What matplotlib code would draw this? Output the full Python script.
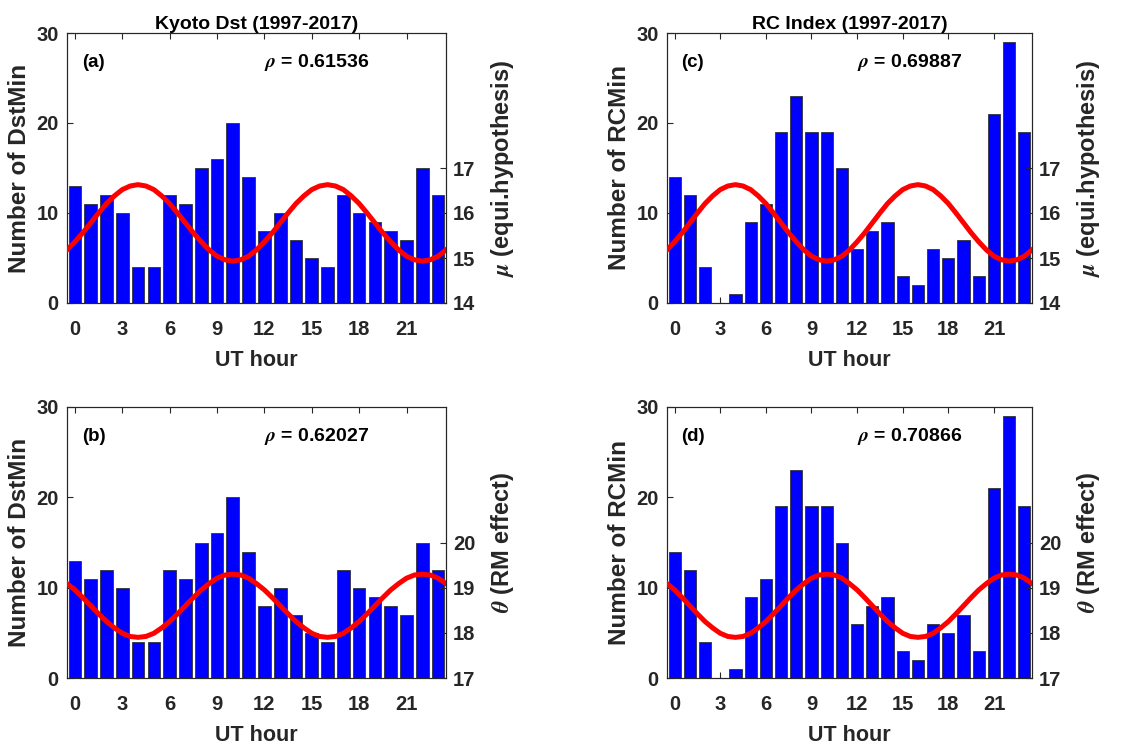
import matplotlib
matplotlib.use("Agg")
from matplotlib import pyplot as plt

plt.rcParams['font.family'] = ['Liberation Sans', 'DejaVu Sans']
plt.rcParams['font.weight'] = 'bold'
plt.rcParams['mathtext.fontset'] = 'stix'

# UT hours and counts of minima
hours = list(range(24))
dst_counts = [13, 11, 12, 10, 4, 4, 12, 11, 15, 16, 20, 14, 8, 10, 7, 5, 4, 12, 10, 9, 8, 7, 15, 12]
rc_counts = [14, 12, 4, 0, 1, 9, 11, 19, 23, 19, 19, 15, 6, 8, 9, 3, 2, 6, 5, 7, 3, 21, 29, 19]

curve_hours = [h * 0.5 - 0.5 for h in range(49)]
mu_curve = [15.18, 15.36, 15.56, 15.78, 16.00, 16.21, 16.38, 16.52, 16.60, 16.63,
            16.60, 16.52, 16.38, 16.21, 16.00, 15.78, 15.56, 15.36, 15.18, 15.04,
            14.96, 14.93, 14.96, 15.04, 15.18, 15.36, 15.56, 15.78, 16.00, 16.21,
            16.38, 16.52, 16.60, 16.63, 16.60, 16.52, 16.38, 16.21, 16.00, 15.78,
            15.56, 15.36, 15.18, 15.04, 14.96, 14.93, 14.96, 15.04, 15.18]
theta_curve = [19.09, 18.95, 18.78, 18.60, 18.42, 18.25, 18.11, 17.99, 17.92, 17.90,
               17.92, 17.99, 18.11, 18.25, 18.42, 18.60, 18.78, 18.95, 19.09, 19.21,
               19.28, 19.30, 19.28, 19.21, 19.09, 18.95, 18.78, 18.60, 18.42, 18.25,
               18.11, 17.99, 17.92, 17.90, 17.92, 17.99, 18.11, 18.25, 18.42, 18.60,
               18.78, 18.95, 19.09, 19.21, 19.28, 19.30, 19.28, 19.21, 19.09]

rho_values = ['0.61536', '0.62027', '0.69887', '0.70866']
x_ticks = [0, 3, 6, 9, 12, 15, 18, 21]

W, H = 1147, 745
ax_color = '#262626'


def px_rect(left, top, right, bottom):
    return [left / W, (H - bottom) / H, (right - left) / W, (bottom - top) / H]


def draw_panel(fig, rect, counts, curve, rlim, rticks, ylab, rlab, tag, rho, title=None):
    ax = fig.add_axes(rect)
    ax.bar(hours, counts, width=0.8, color=(0, 0, 1), edgecolor='#333333', linewidth=0.6, zorder=2)
    ax.set_xlim(-0.5, 23.5)
    ax.set_ylim(0, 30)
    ax.set_xticks(x_ticks)
    ax.set_yticks([0, 10, 20, 30])
    ax.tick_params(direction='in', top=True, right=False, labelsize=14.5, colors=ax_color,
                   length=4, pad=6)
    ax.tick_params(axis='x', pad=12)
    for s in ax.spines.values():
        s.set_color(ax_color)
        s.set_linewidth(0.8)
    ax.set_xlabel('UT hour', fontsize=15.5, fontweight='bold', color=ax_color, labelpad=8)
    ax.set_ylabel(ylab, fontsize=17.5, fontweight='bold', color=ax_color, labelpad=4)
    ax.text(0.04, 0.89, tag, transform=ax.transAxes, fontsize=13.5, fontweight='bold',
            va='center', ha='left')
    ax.text(0.52, 0.89, r'$\rho$ = ' + rho, transform=ax.transAxes, fontsize=14,
            fontweight='bold', va='center', ha='left')
    if title:
        ax.set_title(title, fontsize=14, fontweight='bold', pad=2)

    ax2 = ax.twinx()
    ax2.plot(curve_hours, curve, color=(1, 0, 0), linewidth=3.6, zorder=3)
    ax2.set_ylim(*rlim)
    ax2.set_yticks(rticks)
    ax2.set_xlim(-0.5, 23.5)
    ax2.tick_params(direction='in', labelsize=14.5, colors=ax_color, length=4, pad=5)
    for s in ax2.spines.values():
        s.set_color(ax_color)
        s.set_linewidth(0.8)
    ax2.set_ylabel(rlab, fontsize=17, fontweight='bold', color=ax_color, labelpad=10)
    return ax, ax2


def main():
    fig = plt.figure(figsize=(W / 100, H / 100), dpi=100)
    fig.patch.set_facecolor('white')

    draw_panel(fig, px_rect(67, 33, 446, 303), dst_counts, mu_curve, (14, 20), [14, 15, 16, 17],
               'Number of DstMin', r'$\mu$ (equi.hypothesis)', '(a)', rho_values[0],
               'Kyoto Dst (1997-2017)')
    draw_panel(fig, px_rect(67, 407, 446, 678), dst_counts, theta_curve, (17, 23), [17, 18, 19, 20],
               'Number of DstMin', r'$\theta$ (RM effect)', '(b)', rho_values[1])
    draw_panel(fig, px_rect(667, 33, 1032, 303), rc_counts, mu_curve, (14, 20), [14, 15, 16, 17],
               'Number of RCMin', r'$\mu$ (equi.hypothesis)', '(c)', rho_values[2],
               'RC Index (1997-2017)')
    draw_panel(fig, px_rect(667, 407, 1032, 678), rc_counts, theta_curve, (17, 23), [17, 18, 19, 20],
               'Number of RCMin', r'$\theta$ (RM effect)', '(d)', rho_values[3])

    plt.savefig('out.png', dpi=100)
    plt.close()


main()
